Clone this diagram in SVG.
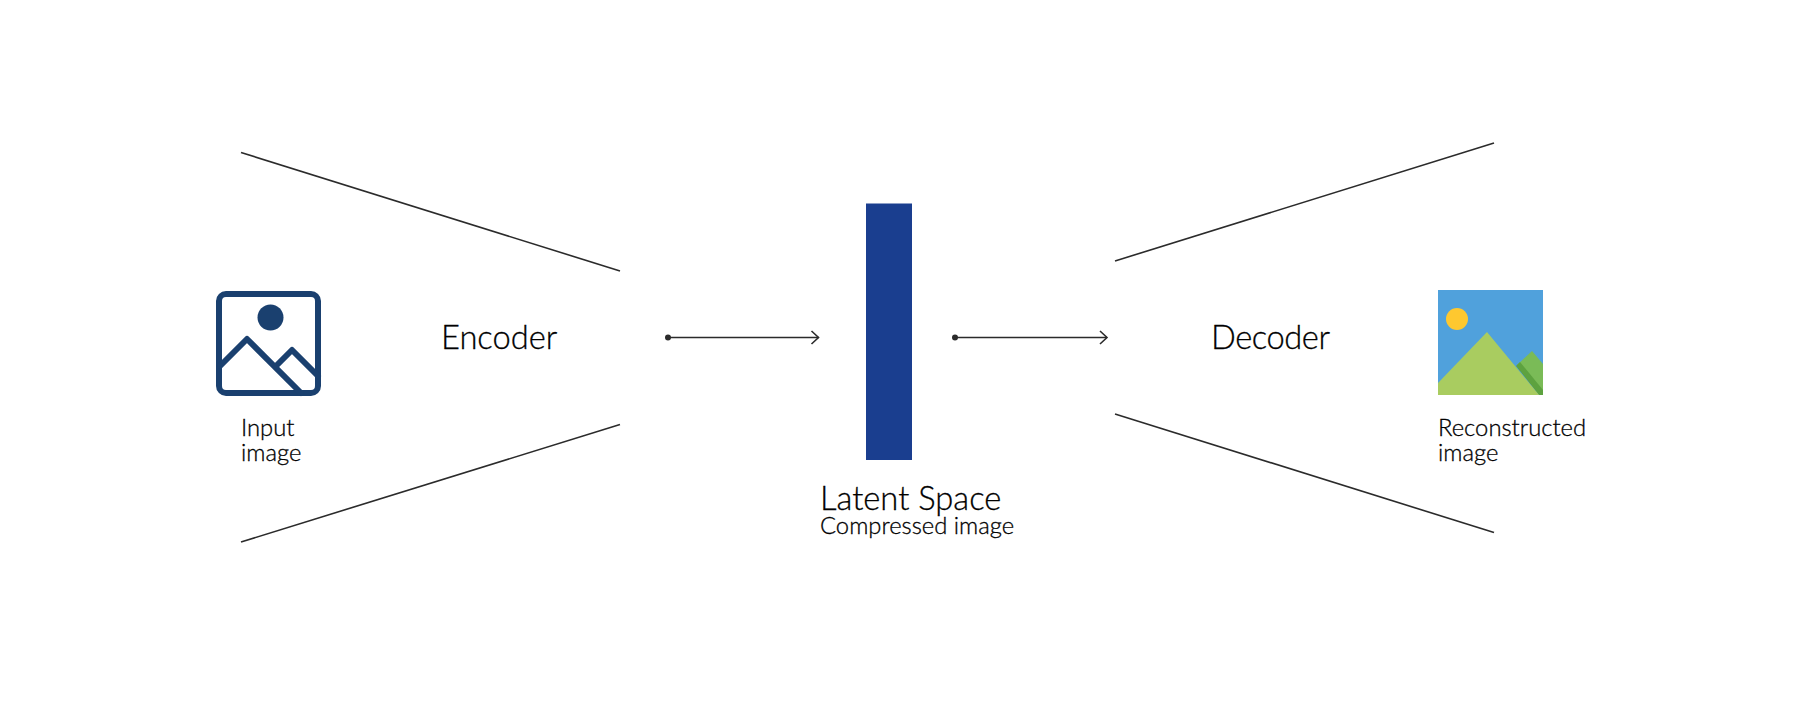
<svg xmlns="http://www.w3.org/2000/svg" width="1793" height="715" viewBox="0 0 1793 715">
<style>
text{font-family:"Lato","Noto Sans",sans-serif;fill:#000;stroke:#000;stroke-width:.3;font-weight:300}
.l{font-size:32.700px}.s{font-size:23.800px}
.c{stroke:#2b2b2b;stroke-width:1.600;fill:none}
.i{fill:none;stroke:#1a406f;stroke-width:6;stroke-linejoin:round;stroke-linecap:round}
</style>
<defs>
<marker id="arr" markerUnits="userSpaceOnUse" markerWidth="12" markerHeight="16" refX="10" refY="8" orient="auto"><path d="M3 1.500L10 8L3 14.500" fill="none" stroke="#2b2b2b" stroke-width="1.600"/></marker>
<marker id="dot" markerUnits="userSpaceOnUse" markerWidth="8" markerHeight="8" refX="4" refY="4"><circle cx="4" cy="4" r="3" fill="#2b2b2b"/></marker>
</defs>
<g id="connectors">
<path class="c" d="M241 152.500L620 271"/>
<path class="c" d="M241 542L620 424.500"/>
<path class="c" d="M1115 261L1494 143"/>
<path class="c" d="M1115 414L1494 532.500"/>
<path class="c" d="M668 337.500H818.500" marker-start="url(#dot)" marker-end="url(#arr)"/>
<path class="c" d="M955 337.500H1107" marker-start="url(#dot)" marker-end="url(#arr)"/>
</g>
<g id="input-image">
<rect class="i" x="219" y="294" width="99" height="99" rx="7"/>
<circle cx="270.500" cy="317.500" r="13" fill="#1a406f"/>
<path class="i" d="M220 366L247 339L301 393M277 365L292 350L318 376"/>
<text class="s" x="241" y="435.500">Input</text>
<text class="s" x="241" y="461">image</text>
</g>
<g id="encoder"><text class="l" x="441" y="349">Encoder</text></g>
<g id="latent-space">
<rect x="866" y="203.500" width="46" height="256.500" fill="#1a3e8f"/>
<text class="l" x="820" y="509.500">Latent Space</text>
<text class="s" x="820" y="534">Compressed image</text>
</g>
<g id="decoder"><text class="l" x="1211" y="349" textLength="119">Decoder</text></g>
<g id="reconstructed-image">
<rect x="1438" y="290" width="105" height="105" fill="#50a1dc"/>
<circle cx="1457" cy="319" r="11" fill="#fec82f"/>
<path d="M1517 365L1532 351L1543 364V395H1539Z" fill="#7abb57"/>
<path d="M1516 366L1520 362L1543 390V395H1539Z" fill="#5da23f"/>
<path d="M1438 383L1487 332L1539 395H1438Z" fill="#a9cc60"/>
<text class="s" x="1438" y="435.500">Reconstructed</text>
<text class="s" x="1438" y="461">image</text>
</g>
</svg>
